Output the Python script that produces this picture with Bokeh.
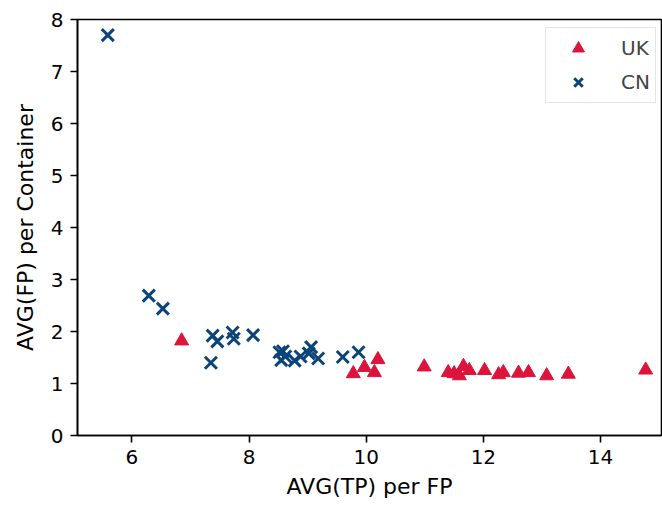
from bokeh.plotting import figure
from bokeh.models import Range1d, FixedTicker, Legend, LegendItem
from bokeh.embed import file_html
from bokeh.resources import INLINE

uk_x = [6.85, 9.78, 9.97, 10.14, 10.20, 10.99, 11.40, 11.50, 11.59, 11.66, 11.76,
        12.02, 12.26, 12.34, 12.60, 12.77, 13.08, 13.45, 14.77]
uk_y = [1.82, 1.19, 1.31, 1.21, 1.46, 1.32, 1.21, 1.19, 1.15, 1.33, 1.25,
        1.25, 1.17, 1.21, 1.20, 1.21, 1.15, 1.18, 1.26]

cn_x = [5.59, 6.29, 6.53, 7.35, 7.38, 7.46, 7.72, 7.74, 8.07, 8.52, 8.55, 8.58,
        8.62, 8.78, 8.88, 9.02, 9.06, 9.18, 9.60, 9.87]
cn_y = [7.70, 2.69, 2.44, 1.40, 1.92, 1.81, 1.98, 1.86, 1.93, 1.60, 1.45, 1.62,
        1.52, 1.44, 1.52, 1.58, 1.70, 1.48, 1.51, 1.60]

x_ticks = [6, 8, 10, 12, 14]
y_ticks = [0, 1, 2, 3, 4, 5, 6, 7, 8]

RED = "#dc143c"
BLUE = "#0b4479"
FONT = "DejaVu Sans"

p = figure(width=662, height=507, output_backend="svg", toolbar_location=None,
           x_range=Range1d(5.073, 15.04), y_range=Range1d(0, 8),
           min_border_left=77, min_border_top=19, min_border_bottom=72,
           min_border_right=1)
p.grid.visible = False
p.outline_line_color = "black"
p.outline_line_width = 1.6

uk = p.scatter(uk_x, uk_y, marker="triangle", size=14, fill_color=RED,
               line_color=RED, line_width=1)
cn = p.scatter(cn_x, cn_y, marker="x", size=17, line_color=BLUE, line_width=3)

for ax in (p.xaxis[0], p.yaxis[0]):
    ax.axis_line_width = 1.6
    ax.major_tick_out = 7
    ax.major_tick_in = 0
    ax.major_tick_line_width = 1.6
    ax.minor_tick_line_color = None
    ax.major_label_text_font = FONT
    ax.major_label_text_font_size = "20px"
    ax.major_label_text_color = "black"
    ax.axis_label_text_font = FONT
    ax.axis_label_text_font_size = "22px"
    ax.axis_label_text_font_style = "normal"
    ax.axis_label_text_color = "black"

p.xaxis[0].ticker = FixedTicker(ticks=x_ticks)
p.yaxis[0].ticker = FixedTicker(ticks=y_ticks)
p.xaxis[0].axis_label = "AVG(TP) per FP"
p.yaxis[0].axis_label = "AVG(FP) per Container"
p.xaxis[0].major_label_standoff = 7
p.yaxis[0].major_label_standoff = 7
p.xaxis[0].axis_label_standoff = 7
p.yaxis[0].axis_label_standoff = 10

legend = Legend(items=[LegendItem(label="UK", renderers=[uk]),
                       LegendItem(label="CN", renderers=[cn])],
                location=(468, 332))
legend.margin = 0
legend.padding = 5
legend.spacing = 4
legend.label_height = 30
legend.glyph_height = 30
legend.glyph_width = 54
legend.label_standoff = 16
legend.label_text_font = FONT
legend.label_text_font_size = "20px"
legend.border_line_color = "#cccccc"
legend.border_line_width = 1.6
legend.background_fill_alpha = 0.8
p.add_layout(legend)

open("out.html", "w").write(file_html(p, INLINE))
